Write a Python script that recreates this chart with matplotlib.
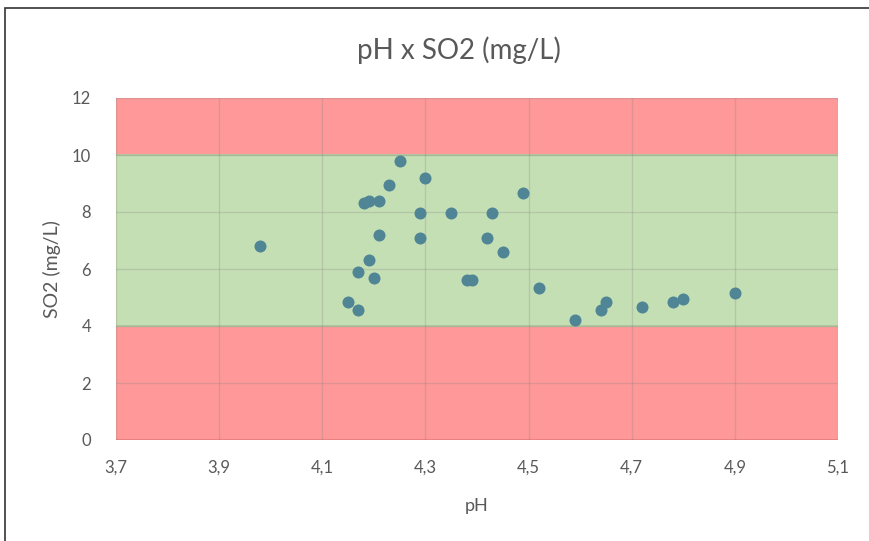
import matplotlib.pyplot as plt
from matplotlib.patches import Rectangle

# pH / SO2 readings
ph = [3.98, 4.15, 4.17, 4.17, 4.19, 4.20, 4.21, 4.18, 4.19, 4.21, 4.23, 4.25,
      4.30, 4.29, 4.35, 4.43, 4.49, 4.29, 4.42, 4.45, 4.38, 4.39, 4.52,
      4.59, 4.64, 4.65, 4.72, 4.78, 4.80, 4.90]
so2 = [6.8, 4.85, 4.55, 5.9, 6.3, 5.7, 7.2, 8.3, 8.4, 8.4, 8.95, 9.8,
       9.2, 7.95, 7.95, 7.95, 8.65, 7.1, 7.1, 6.6, 5.6, 5.6, 5.35,
       4.2, 4.55, 4.85, 4.65, 4.85, 4.95, 5.15]
# acceptable SO2 range and chart bounds
so2_low, so2_high = 4, 10
y_max = 12
xticks = [3.7, 3.9, 4.1, 4.3, 4.5, 4.7, 4.9, 5.1]
xtick_labels = ['3,7', '3,9', '4,1', '4,3', '4,5', '4,7', '4,9', '5,1']
yticks = [0, 2, 4, 6, 8, 10, 12]

plt.rcParams['font.family'] = ['Lato', 'DejaVu Sans']
grey = '#595959'

fig = plt.figure(figsize=(8.69, 5.41), dpi=100)
ax = fig.add_axes([116/869, 1-440/541, 722/869, 342/541])

x0, x1 = xticks[0], xticks[-1]
ax.axhspan(0, so2_low, color='#ff9999', lw=0, zorder=0)
ax.axhspan(so2_low, so2_high, color='#c5dfb4', lw=0, zorder=0)
ax.axhspan(so2_high, y_max, color='#ff9999', lw=0, zorder=0)
ax.axhline(0, color='#f08080', lw=1.5, zorder=1)
for v in (so2_low, so2_high):
    ax.axhline(v, color='#b5c9a0', lw=1.5, zorder=1)

ax.set_xlim(x0, x1)
ax.set_ylim(0, y_max)
ax.set_xticks(xticks)
ax.set_xticklabels(xtick_labels)
ax.set_yticks(yticks)
ax.grid(True, color='#808080', alpha=0.25, lw=1, zorder=1)
ax.set_axisbelow(False)
for s in ax.spines.values():
    s.set_visible(False)
ax.tick_params(length=0, colors=grey, labelsize=12, pad=14)
ax.tick_params(axis='y', pad=18)

ax.scatter(ph, so2, s=75, color='#4f8595', zorder=3, linewidths=0)

fig.text(459/869, 1-50/541, 'pH x SO2 (mg/L)', fontsize=20, color=grey,
         ha='center', va='center')
ax.set_xlabel('pH', fontsize=13, color=grey, labelpad=16)
ax.set_ylabel('SO2 (mg/L)', fontsize=14, color=grey, labelpad=8)

# outer chart frame (right/bottom edges fall outside the image)
fig.patches.append(Rectangle((5/869, -0.1), 1.0, 1-8/541+0.1, transform=fig.transFigure,
                             fill=False, edgecolor='#333333', lw=1.2))

fig.savefig('out.png', dpi=100)
